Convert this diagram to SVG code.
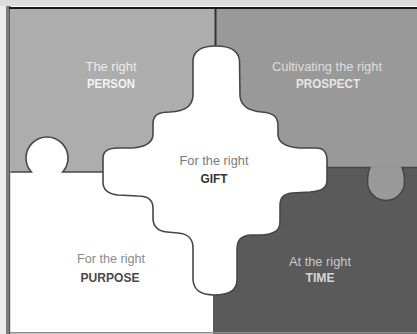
<svg xmlns="http://www.w3.org/2000/svg" width="417" height="334" viewBox="0 0 417 334">
<style>
  text { font-family: "Liberation Sans Narrow", "Liberation Sans", Arial, sans-serif; font-size: 12px; text-anchor: middle; }
  .b { font-weight: bold; }
  .edge { fill: none; stroke: #474747; stroke-width: 1.6; }
</style>
<rect x="0" y="0" width="417" height="334" fill="#ffffff"/>
<rect x="0" y="0" width="417" height="6" fill="#dcdcdc"/>
<rect x="0" y="6" width="6" height="328" fill="#ededed"/>
<rect x="6" y="6" width="3" height="328" fill="#7c7c7c"/>
<rect x="9" y="6" width="1.5" height="328" fill="#5a5a5a"/>

<g id="person">
  <rect x="10.5" y="9" width="206" height="163" fill="#adadad"/>
  <path d="M31.3 172 A21 21 0 1 1 62.7 172 Z" fill="#ffffff"/>
  <text x="111" y="70.5" fill="#ececec" textLength="51" lengthAdjust="spacingAndGlyphs">The right</text>
  <text class="b" x="111" y="88" fill="#f4f4f4" textLength="48" lengthAdjust="spacingAndGlyphs">PERSON</text>
</g>
<g id="prospect">
  <rect x="216" y="9" width="201" height="158.5" fill="#999999"/>
  <text x="327" y="70.5" fill="#dedede" textLength="110" lengthAdjust="spacingAndGlyphs">Cultivating the right</text>
  <text class="b" x="328" y="88" fill="#e6e6e6" textLength="64" lengthAdjust="spacingAndGlyphs">PROSPECT</text>
</g>
<g id="time">
  <rect x="213" y="167.5" width="204" height="166.5" fill="#5a5a5a"/>
  <path d="M370 167.5 C368 172 367.5 177 367.5 182 A18.5 18.5 0 0 0 404.5 182 C404.5 177 404 172 402 167.5 Z" fill="#999999"/>
  <text x="320" y="266" fill="#c8c8c8" textLength="62" lengthAdjust="spacingAndGlyphs">At the right</text>
  <text class="b" x="320" y="282" fill="#d6d6d6" textLength="29" lengthAdjust="spacingAndGlyphs">TIME</text>
</g>
<g id="purpose">
  <rect x="10.5" y="172" width="202.5" height="160" fill="#ffffff"/>
  <text x="111" y="263" fill="#8a8a8a" textLength="68" lengthAdjust="spacingAndGlyphs">For the right</text>
  <text class="b" x="110" y="282" fill="#4a4a4a" textLength="59" lengthAdjust="spacingAndGlyphs">PURPOSE</text>
</g>

<g id="connectors">
  <line x1="9" y1="8" x2="417" y2="8" stroke="#1a1a1a" stroke-width="2.2"/>
  <line x1="215.5" y1="9" x2="215.5" y2="47" stroke="#333333" stroke-width="2"/>
  <path class="edge" d="M10.5 172 H31.3 A21 21 0 1 1 62.7 172 H104"/>
  <path class="edge" d="M326 167.5 H370 C368 172 367.5 177 367.5 182 A18.5 18.5 0 0 0 404.5 182 C404.5 177 404 172 402 167.5 H417"/>
  <line x1="10" y1="332.8" x2="417" y2="332.8" stroke="#8c8c8c" stroke-width="1.4"/>
</g>

<g id="gift">
  <path d="M216 46 C230 46 238 50 239.5 60 L240 96 C241 106 248 111 262 112 C274 113 278 117 278 126 L278 134 C278 142 284 147 300 148 L316 148 C324 148 327 153 327 160 L327 180 C327 188 322 191 310 192 L292 193 C283 194 280 198 280 206 L280 222 C280 230 275 234 262 235 L250 235 C241 236 237 240 237 250 L237 280 C237 290 230 295 214 295 C200 295 194 290 193 280 L193 248 C193 238 188 234 178 233 L167 232 C157 231 153 226 153 218 L153 208 C153 200 148 196 138 196 L118 195 C108 194 103 190 103 182 L103 158 C103 152 107 148 118 148 L132 148 C146 147 153 143 153 134 L153 124 C153 115 158 112 170 112 C186 111 192 106 193 96 L193 60 C194 50 202 46 216 46 Z" fill="#ffffff" stroke="#474747" stroke-width="1.6"/>
  <text x="214" y="165" fill="#7a7a7a" textLength="69" lengthAdjust="spacingAndGlyphs">For the right</text>
  <text class="b" x="214" y="183" fill="#333333" textLength="27" lengthAdjust="spacingAndGlyphs">GIFT</text>
</g>
</svg>
